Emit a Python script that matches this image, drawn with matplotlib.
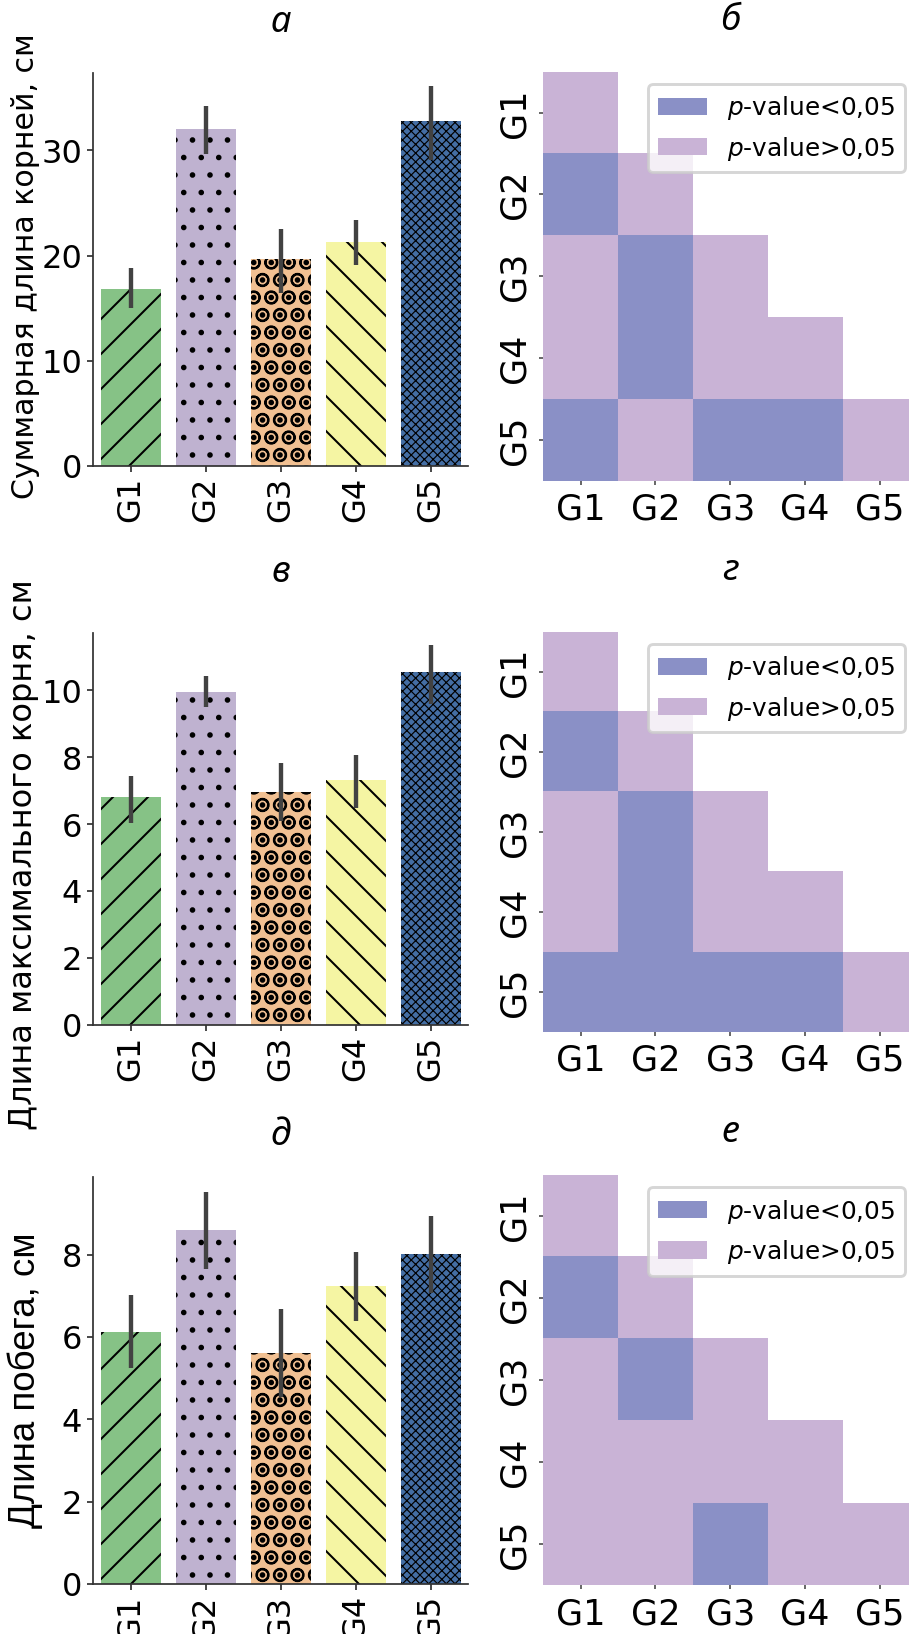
import colorsys

import numpy as np
import matplotlib
matplotlib.use('Agg')
import matplotlib.pyplot as plt
from matplotlib.colors import ListedColormap, to_rgb
from matplotlib.patches import Patch

# ---- data -------------------------------------------------------------
groups = ['G1', 'G2', 'G3', 'G4', 'G5']

# total root length, cm: mean and CI bounds
total_root_mean = [16.8, 32.0, 19.65, 21.3, 32.8]
total_root_low = [15.0, 29.7, 16.4, 19.1, 29.1]
total_root_high = [18.8, 34.2, 22.5, 23.4, 36.1]

# maximal root length, cm
max_root_mean = [6.80, 9.95, 6.96, 7.31, 10.54]
max_root_low = [6.03, 9.49, 6.08, 6.48, 9.60]
max_root_high = [7.43, 10.44, 7.83, 8.06, 11.34]

# shoot length, cm
shoot_mean = [6.13, 8.61, 5.60, 7.23, 8.02]
shoot_low = [5.24, 7.65, 4.55, 6.40, 7.07]
shoot_high = [7.03, 9.53, 6.69, 8.06, 8.93]

# pairwise comparisons, lower triangle (1 = p-value < 0.05)
sig_total_root = [[0], [1, 0], [0, 1, 0], [0, 1, 0, 0], [1, 0, 1, 1, 0]]
sig_max_root = [[0], [1, 0], [0, 1, 0], [0, 1, 0, 0], [1, 1, 1, 1, 0]]
sig_shoot = [[0], [1, 0], [0, 1, 0], [0, 0, 0, 0], [0, 0, 1, 0, 0]]

ylabels = ['Суммарная длина корней, см', 'Длина максимального корня, см', 'Длина побега, см']
bar_titles = ['а', 'в', 'д']
heat_titles = ['б', 'г', 'е']
legend_labels = [r'$p$-value<0,05', r'$p$-value>0,05']

# ---- style ------------------------------------------------------------
DPI = 210
W, H = 909, 1634
accent = ['#7fc97f', '#beaed4', '#fdc086', '#ffff99', '#386cb0']
hatches = ['//', '..', 'OO..', '\\\\', 'xxxxxxxx']
hatch_widths = [0.7, 0.7, 0.7, 0.7, 0.4]
sig_color = '#8a90c6'
ns_color = '#c9b3d6'


def desaturate(color, prop=0.8):
    h, l, s = colorsys.rgb_to_hls(*to_rgb(color))
    return colorsys.hls_to_rgb(h, l, s * prop)


bar_colors = [desaturate(c) for c in accent]

plt.rcParams['hatch.linewidth'] = 0.7
plt.rcParams['hatch.color'] = 'black'
plt.rcParams['font.family'] = 'DejaVu Sans'

fig = plt.figure(figsize=((W + 0.4) / DPI, (H + 0.4) / DPI), dpi=DPI)


def px_axes(left, right, top, bottom):
    return fig.add_axes([left / W, 1 - bottom / H, (right - left) / W, (bottom - top) / H])


# pixel boxes of the panels (left, right, top, bottom)
bar_boxes = [(93, 468, 73, 466), (93, 468, 633, 1025), (93, 468, 1177, 1584)]
heat_boxes = [(543, 917, 72, 481), (543, 917, 632, 1032), (543, 917, 1175, 1585)]
ylims = [37.4, 11.72, 9.89]
yticks = [[0, 10, 20, 30], [0, 2, 4, 6, 8, 10], [0, 2, 4, 6, 8]]
title_pads = [14.0, 17.5, 11.0]
label_font = ['DejaVu Sans', 'DejaVu Sans', 'Liberation Sans']
label_size = [10.3, 11.0, 12.6]
label_center = [266, 854, 1380]
label_x = [25, 23, 25]

bar_data = [
    (total_root_mean, total_root_low, total_root_high),
    (max_root_mean, max_root_low, max_root_high),
    (shoot_mean, shoot_low, shoot_high),
]
sig_data = [sig_total_root, sig_max_root, sig_shoot]

x = np.arange(len(groups))
for k in range(3):
    mean, low, high = (np.asarray(v) for v in bar_data[k])
    ax = px_axes(*bar_boxes[k])
    for i in range(len(groups)):
        with plt.rc_context({'hatch.linewidth': hatch_widths[i]}):
            bar = ax.bar(x[i], mean[i], width=0.8, color=bar_colors[i], linewidth=0,
                         hatch=hatches[i])[0]
        if hasattr(bar, 'set_hatch_linewidth'):
            bar.set_hatch_linewidth(hatch_widths[i])
    ax.vlines(x, low, high, color='#424242', linewidth=1.5, zorder=3)
    ax.set_xlim(-0.5, 4.5)
    ax.set_ylim(0, ylims[k])
    ax.set_xticks(x)
    ax.set_xticklabels(groups, rotation=90)
    ax.set_yticks(yticks[k])
    ax.tick_params(labelsize=11, length=2.2, width=0.6, pad=1.5, color='#333333')
    for side in ('top', 'right'):
        ax.spines[side].set_visible(False)
    for side in ('left', 'bottom'):
        ax.spines[side].set_linewidth(0.6)
        ax.spines[side].set_color('#333333')
    ax.set_title(bar_titles[k], fontsize=12.5, family='Noto Sans', style='italic',
                 pad=title_pads[k])
    fig.text(label_x[k] / W, 1 - label_center[k] / H, ylabels[k], rotation=90, ha='center',
             va='center', fontsize=label_size[k], family=label_font[k])

    # significance matrix
    hx = px_axes(*heat_boxes[k])
    n = len(groups)
    mat = np.full((n, n), np.nan)
    for i, row in enumerate(sig_data[k]):
        mat[i, :len(row)] = row
    hx.imshow(np.ma.masked_invalid(mat), cmap=ListedColormap([ns_color, sig_color]),
              vmin=0, vmax=1, aspect='auto', interpolation='nearest')
    hx.set_xlim(-0.5, n - 0.5)
    hx.set_ylim(n - 0.5, -0.5)
    hx.set_xticks(x)
    hx.set_xticklabels(groups)
    hx.set_yticks(x)
    hx.set_yticklabels(groups, rotation=90, va='center')
    hx.tick_params(labelsize=12, length=1.5, width=0.6, color='#555555', pad=2.5)
    for s in hx.spines.values():
        s.set_visible(False)
    hx.set_title(heat_titles[k], fontsize=12.5, family='Noto Sans', style='italic',
                 pad=title_pads[k] + 0.5)
    handles = [Patch(facecolor=sig_color, label=legend_labels[0]),
               Patch(facecolor=ns_color, label=legend_labels[1])]
    hx.legend(handles=handles, loc='upper right', fontsize=8.5)

fig.savefig('out.png', dpi=DPI)
